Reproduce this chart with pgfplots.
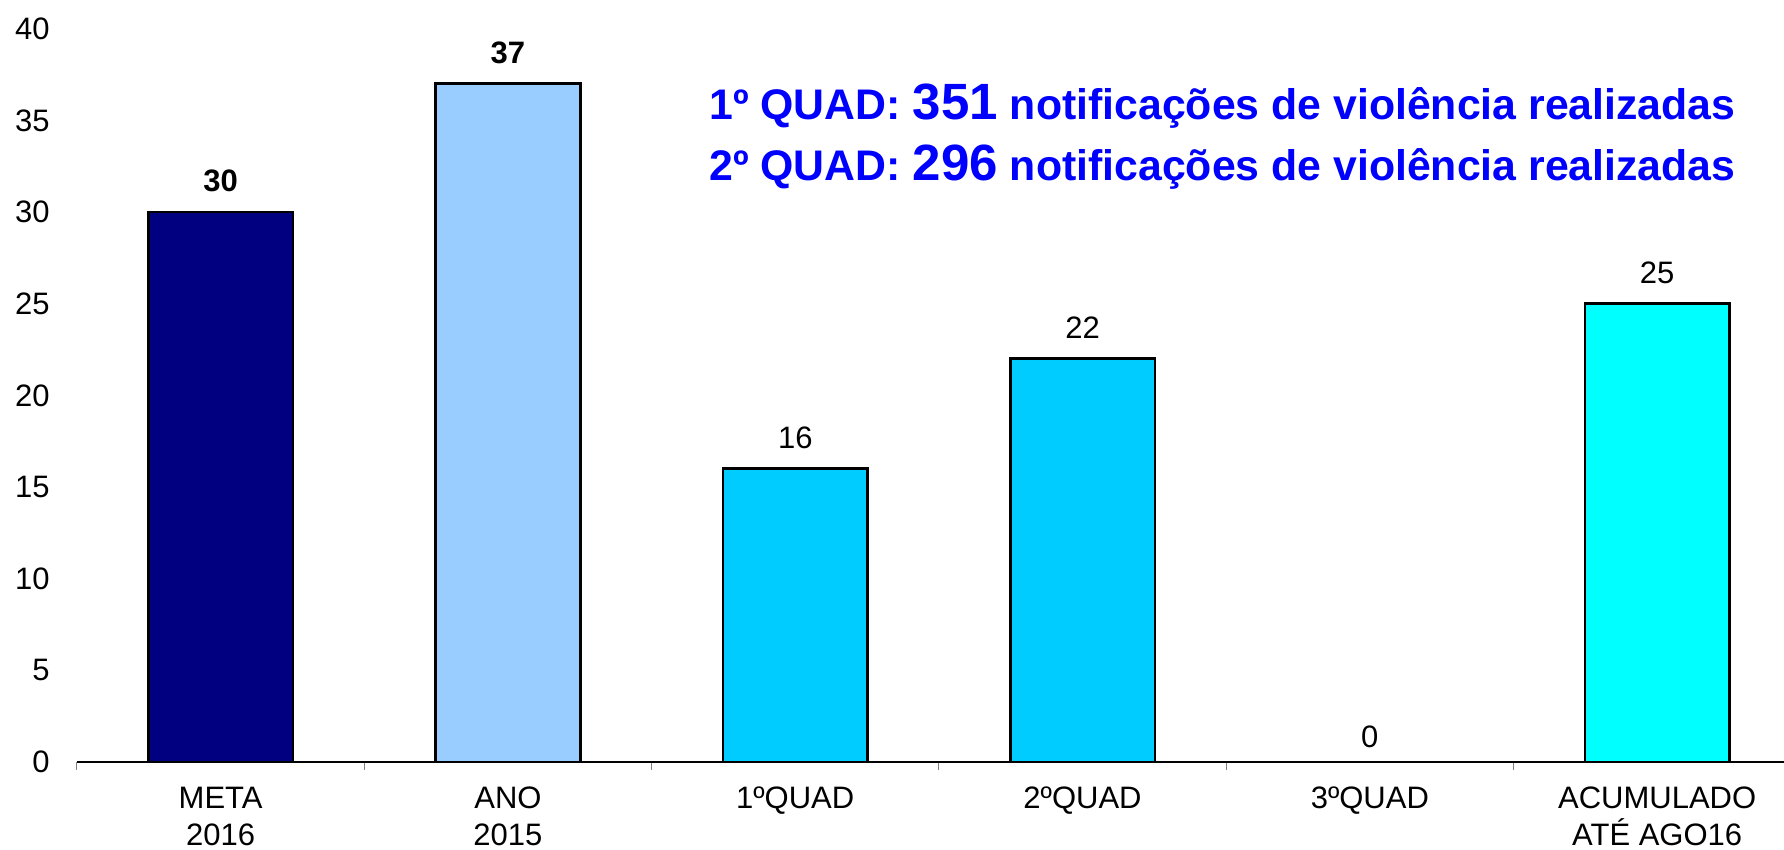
\documentclass[border=0pt]{standalone}
\usepackage{pgfplots}
\pgfplotsset{compat=1.18}
\usepackage{fontspec}
\setmainfont{Liberation Sans}
\definecolor{cnavy}{HTML}{000080}
\definecolor{clight}{HTML}{99CCFF}
\definecolor{cquad}{HTML}{00CCFF}
\definecolor{ccyan}{HTML}{00FFFF}
\definecolor{tblue}{HTML}{0000FF}
\newcommand{\lblfont}{\fontsize{15.5}{18.5}\selectfont}
\begin{document}
\begin{tikzpicture}
\begin{axis}[
  scale only axis, width=853.5pt, height=366.65pt,
  xmin=-0.5, xmax=5.4415, ymin=0, ymax=40,
  axis x line*=bottom, axis y line*=left,
  y axis line style={draw=none},
  x axis line style={line width=0.75pt},
  ytick={0,5,...,40}, ytick style={draw=none},
  xtick={0,1,2,3,4,5},
  xticklabels={{META\\2016},{ANO\\2015},{1ºQUAD},{2ºQUAD},{3ºQUAD},{ACUMULADO\\ATÉ AGO16}},
  major tick length=0pt,
  minor xtick={-0.5,0.5,1.5,2.5,3.5,4.5},
  minor tick length=4pt,
  tick align=outside,
  minor tick style={gray, line width=0.5pt},
  xticklabel style={align=center, anchor=north, inner sep=0pt, yshift=-12.3pt, font=\lblfont},
  yticklabel style={anchor=east, inner sep=0pt, xshift=-13.5pt, font=\lblfont},
  /pgf/number format/assume math mode=true,
  ybar, bar width=0.503, bar shift=0pt,
  nodes near coords,
  every node near coord/.append style={anchor=south, inner sep=0pt, yshift=9.3pt, font=\lblfont, black},
]
\addplot[fill=cnavy, draw=black, line width=1.3pt, every node near coord/.append style={font=\lblfont\bfseries}] coordinates {(0,30)};
\addplot[fill=clight, draw=black, line width=1.3pt, every node near coord/.append style={font=\lblfont\bfseries}] coordinates {(1,37)};
\addplot[fill=cquad, draw=black, line width=1.3pt] coordinates {(2,16)};
\addplot[fill=cquad, draw=black, line width=1.3pt] coordinates {(3,22)};
\addplot[fill=none, draw=none, every node near coord/.append style={yshift=-2.3pt}] coordinates {(4,0)};
\addplot[fill=ccyan, draw=black, line width=1.3pt] coordinates {(5,25)};
\end{axis}
\node[anchor=base west, inner sep=0pt, text=tblue, font=\fontsize{21.4}{25}\selectfont\bfseries] at (316pt,321pt) {1º QUAD: {\fontsize{25.5}{30}\selectfont 351} notificações de violência realizadas};
\node[anchor=base west, inner sep=0pt, text=tblue, font=\fontsize{21.4}{25}\selectfont\bfseries] at (316pt,290.65pt) {2º QUAD: {\fontsize{25.5}{30}\selectfont 296} notificações de violência realizadas};
\pgfresetboundingbox
\path[use as bounding box] (-38.5pt,-44pt) rectangle (853.5pt,381pt);
\end{tikzpicture}
\end{document}
